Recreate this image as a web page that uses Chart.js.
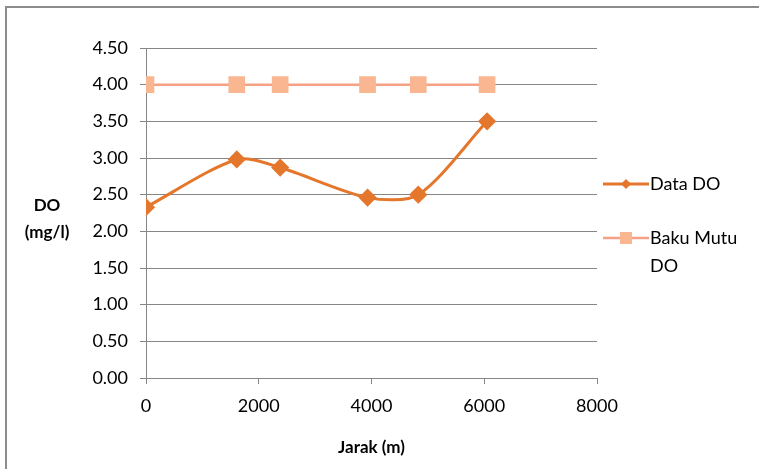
<!DOCTYPE html>
<html>
<head>
<meta charset="utf-8">
<script src="https://cdn.jsdelivr.net/npm/chart.js@4/dist/chart.umd.min.js"></script>
<style>
  html, body { margin: 0; padding: 0; background: #fff; }
  #wrap { width: 759px; height: 469px; }
</style>
</head>
<body>
<div id="wrap"><canvas id="chartDO" width="759" height="469"></canvas></div>
<script>
// data
var jarak = [0, 1610, 2380, 3930, 4830, 6050];
var dataDO = [2.33, 2.98, 2.87, 2.46, 2.50, 3.50];
var bakuMutuDO = [4.00, 4.00, 4.00, 4.00, 4.00, 4.00];
var labelSeri = ['Data DO', 'Baku Mutu DO'];
var judulY = ['DO', '(mg/l)'];
var judulX = 'Jarak (m)';

var FONT = 'Lato, Carlito, "Liberation Sans", sans-serif';
var abu = '#868686';

function toPoints(xs, ys) {
    return xs.map(function (x, i) { return {x: x, y: ys[i]}; });
}

// gambar judul sumbu Y (horizontal), legenda di kanan, dan bingkai
var plugTambahan = {
    id: 'tambahan',
    beforeDraw: function (chart) {
        var ctx = chart.ctx;
        ctx.save();
        ctx.fillStyle = '#fff';
        ctx.fillRect(0, 0, chart.width, chart.height);
        ctx.strokeStyle = '#8c8c8c';
        ctx.lineWidth = 2;
        ctx.beginPath();
        ctx.moveTo(6, chart.height);
        ctx.lineTo(6, 7);
        ctx.lineTo(chart.width, 7);
        ctx.stroke();
        ctx.restore();
    },
    afterDraw: function (chart) {
        var ctx = chart.ctx;
        var area = chart.chartArea;
        ctx.save();
        // judul Y
        ctx.fillStyle = '#000';
        ctx.font = 'bold 17px ' + FONT;
        ctx.textAlign = 'center';
        ctx.textBaseline = 'middle';
        var yMid = (area.top + area.bottom) / 2;
        ctx.fillText(judulY[0], 47, yMid - 7);
        ctx.fillText(judulY[1], 47, yMid + 20);

        // legenda
        ctx.font = '18px ' + FONT;
        ctx.textAlign = 'left';
        var lx = area.right + 6;
        var ly = [184, 238];
        chart.data.datasets.forEach(function (ds, i) {
            var y = ly[i];
            ctx.strokeStyle = ds.borderColor;
            ctx.lineWidth = ds.borderWidth;
            ctx.beginPath();
            ctx.moveTo(lx, y);
            ctx.lineTo(lx + 46, y);
            ctx.stroke();
            var cx = lx + 23;
            ctx.fillStyle = ds.pointBackgroundColor;
            ctx.beginPath();
            if (ds.pointStyle === 'rectRot') {
                ctx.moveTo(cx, y - 5);
                ctx.lineTo(cx + 5, y);
                ctx.lineTo(cx, y + 5);
                ctx.lineTo(cx - 5, y);
                ctx.closePath();
            } else {
                ctx.rect(cx - 6, y - 6, 12, 12);
            }
            ctx.fill();
            // bungkus teks legenda
            var kata = ds.label.split(' ');
            var baris = [];
            var cur = '';
            kata.forEach(function (k) {
                var coba = cur ? cur + ' ' + k : k;
                if (ctx.measureText(coba).width > 95 && cur) {
                    baris.push(cur);
                    cur = k;
                } else {
                    cur = coba;
                }
            });
            baris.push(cur);
            ctx.fillStyle = '#000';
            baris.forEach(function (b, j) {
                ctx.fillText(b, lx + 47, y + j * 28);
            });
        });
        ctx.restore();
    }
};

var chart = new Chart('chartDO', {
    type: 'line',
    data: {
        datasets: [{
            label: labelSeri[0],
            data: toPoints(jarak, dataDO),
            borderColor: '#E4772C',
            backgroundColor: '#E4772C',
            pointBackgroundColor: '#E4772C',
            pointBorderColor: '#E4772C',
            pointStyle: 'rectRot',
            pointRadius: 7,
            borderWidth: 3,
            tension: 0.28,
            order: 1
        }, {
            label: labelSeri[1],
            data: toPoints(jarak, bakuMutuDO),
            borderColor: '#F7A184',
            backgroundColor: '#F9B690',
            pointBackgroundColor: '#F9B690',
            pointBorderColor: '#F9B690',
            pointStyle: 'rect',
            pointRadius: 10,
            borderWidth: 2.5,
            tension: 0,
            order: 2
        }]
    },
    options: {
        responsive: false,
        animation: false,
        layout: { padding: { left: 80, right: 162, top: 48, bottom: 0 } },
        plugins: {
            legend: { display: false },
            tooltip: { enabled: false }
        },
        scales: {
            x: {
                type: 'linear',
                min: 0,
                max: 8000,
                ticks: {
                    stepSize: 2000,
                    padding: 11,
                    color: '#000',
                    font: { family: FONT, size: 18 },
                    maxRotation: 0,
                    callback: function (v) { return String(v); }
                },
                grid: { drawOnChartArea: false, color: abu, tickLength: 6 },
                border: { color: abu, width: 1 },
                title: {
                    display: true,
                    text: judulX,
                    color: '#000',
                    font: { family: FONT, size: 17, weight: 'bold' },
                    padding: { top: 6, bottom: 11 }
                },
                afterFit: function (s) { s.height = 91; }
            },
            y: {
                min: 0,
                max: 4.5,
                ticks: {
                    stepSize: 0.5,
                    padding: 12,
                    color: '#000',
                    font: { family: FONT, size: 18 },
                    callback: function (v) { return v.toFixed(2); }
                },
                grid: { color: abu, tickLength: 6 },
                border: { color: abu, width: 1 },
                afterFit: function (s) { s.width = 66; }
            }
        }
    },
    plugins: [plugTambahan]
});
</script>
</body>
</html>
